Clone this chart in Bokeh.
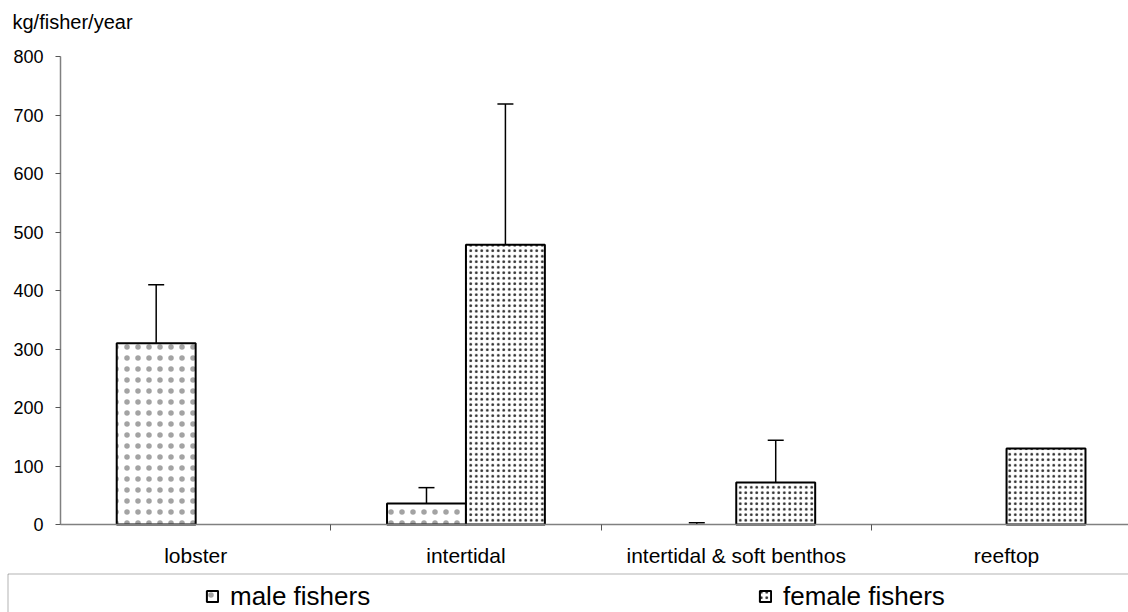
from bokeh.plotting import figure
from bokeh.models import (ColumnDataSource, Range1d, FixedTicker, Whisker, TeeHead,
                          Legend, LegendItem, BoxAnnotation, CDSView, BooleanFilter,
                          Label, LinearAxis)
from bokeh.embed import file_html
from bokeh.resources import INLINE

categories = ["lobster", "intertidal", "intertidal & soft benthos", "reeftop"]
male_values = [310, 36, 0, 0]
male_errors = [100, 27, 3, 0]
female_values = [0, 478, 72, 130]
female_errors = [0, 241, 72, 0]
y_ticks = [0, 100, 200, 300, 400, 500, 600, 700, 800]
series_names = ["male fishers", "female fishers"]

FONT = "Liberation Sans"
BAR_W = 0.292
OFF = BAR_W / 2
W, H = 1128, 612

STYLE = {
    "male": dict(hatch_pattern="dot", hatch_scale=11, hatch_color="#333333", hatch_alpha=0.45),
    "female": dict(hatch_pattern="dot", hatch_scale=5.5, hatch_color="#2a2a2a"),
}

# frame covers the whole canvas; axes are pinned inside it
PX_X = 270.3   # pixels per category
PX_Y = 0.585   # pixels per kg
X0, Y0 = 60, 524
p = figure(width=W, height=H, output_backend="svg", toolbar_location=None,
           x_range=Range1d(-X0 / PX_X, (W - X0) / PX_X),
           y_range=Range1d(-(H - Y0) / PX_Y, Y0 / PX_Y),
           x_axis_type=None, y_axis_type=None,
           min_border=0, min_border_left=0, min_border_right=0,
           min_border_top=0, min_border_bottom=0)
p.outline_line_color = None
p.grid.visible = False

centers = [i + 0.5 for i in range(len(categories))]


def add_series(values, errors, offset, style):
    xs = [c + offset for c in centers]
    src = ColumnDataSource(dict(x=xs, top=values))
    view = CDSView(filter=BooleanFilter([v > 0 for v in values]))
    r = p.vbar(x="x", top="top", width=BAR_W, bottom=0, source=src, view=view,
               fill_color="white", line_color="black", line_width=2, **style)
    keep = [i for i, e in enumerate(errors) if e > 0]
    esrc = ColumnDataSource(dict(x=[xs[i] for i in keep],
                                 lower=[values[i] for i in keep],
                                 upper=[values[i] + errors[i] for i in keep]))
    p.add_layout(Whisker(base="x", lower="lower", upper="upper", source=esrc,
                         dimension="height", line_color="black", line_width=1.5,
                         lower_head=None,
                         upper_head=TeeHead(size=16, line_color="black", line_width=1.5)))
    return r


r_male = add_series(male_values, male_errors, -OFF, STYLE["male"])
r_female = add_series(female_values, female_errors, OFF, STYLE["female"])

# x axis pinned at y = 0
xa = LinearAxis(fixed_location=0, bounds=(0, (W - X0) / PX_X))
xa.ticker = FixedTicker(ticks=centers, minor_ticks=[1, 2, 3])
xa.major_label_overrides = {c: name for c, name in zip(centers, categories)}
xa.major_tick_line_color = None
xa.major_tick_out = 0
xa.major_tick_in = 0
xa.minor_tick_out = 6
xa.minor_tick_in = 0
xa.minor_tick_line_color = "#555555"
xa.axis_line_color = "#808080"
xa.axis_line_width = 1.5
xa.major_label_standoff = 13
xa.major_label_text_font = FONT
xa.major_label_text_font_size = "21px"
xa.major_label_text_color = "black"
p.add_layout(xa, "below")

# y axis pinned at x = 0
ya = LinearAxis(fixed_location=0, bounds=(0, 800))
ya.ticker = FixedTicker(ticks=y_ticks)
ya.minor_tick_line_color = None
ya.major_tick_out = 5
ya.major_tick_in = 0
ya.major_tick_line_color = "#555555"
ya.axis_line_color = "#808080"
ya.axis_line_width = 1.5
ya.major_label_standoff = 12
ya.major_label_text_font = FONT
ya.major_label_text_font_size = "18px"
ya.major_label_text_color = "black"
p.add_layout(ya, "left")

# unit label
p.add_layout(Label(x=12, y=H - 21, x_units="screen", y_units="screen", text="kg/fisher/year",
                   text_font=FONT, text_font_size="20px", text_color="black",
                   text_baseline="alphabetic"))

# legend box (open to the right and bottom, as in the source)
p.add_layout(BoxAnnotation(left=7.5, right=W + 50, top=H - 573.5, bottom=-50,
                           left_units="screen", right_units="screen",
                           top_units="screen", bottom_units="screen",
                           fill_color=None, line_color="black", line_width=1))

for name, rend, vx in [(series_names[0], r_male, 205), (series_names[1], r_female, 758)]:
    lg = Legend(items=[LegendItem(label=name, renderers=[rend])],
                location=(vx, 0.5), padding=0, border_line_color=None,
                background_fill_alpha=0, glyph_width=14, glyph_height=14,
                label_standoff=11, label_text_font=FONT, label_text_font_size="26px",
                label_text_color="black", margin=0)
    p.add_layout(lg, "center")

open("out.html", "w").write(file_html(p, INLINE))
